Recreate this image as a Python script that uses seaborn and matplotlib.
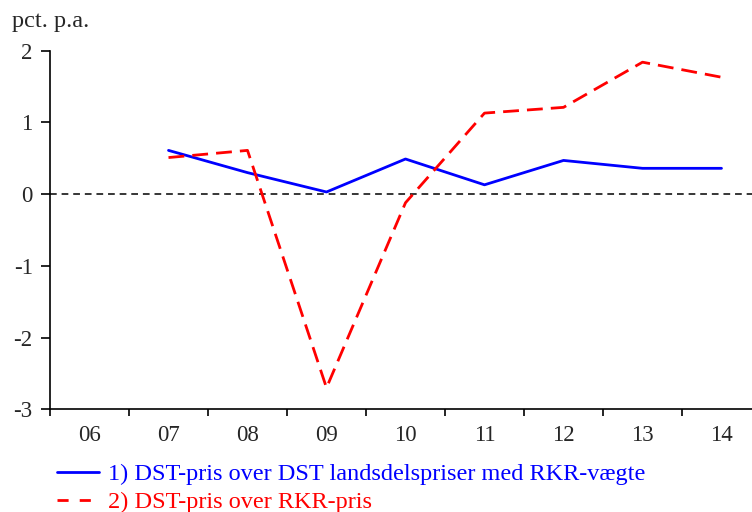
import numpy as np
import pandas as pd
import matplotlib
matplotlib.use("Agg")
import matplotlib.pyplot as plt
import seaborn as sns
from matplotlib.lines import Line2D

years = ["06", "07", "08", "09", "10", "11", "12", "13", "14"]
series1_name = "1) DST-pris over DST landsdelspriser med RKR-vægte"
series2_name = "2) DST-pris over RKR-pris"
series1 = [np.nan, 0.61, 0.30, 0.03, 0.49, 0.13, 0.47, 0.36, 0.36]
series2 = [np.nan, 0.51, 0.61, -2.70, -0.12, 1.13, 1.21, 1.84, 1.63]
y_ticks = [-3, -2, -1, 0, 1, 2]
y_label = "pct. p.a."

sns.set_theme(style="white")
plt.rcParams["font.family"] = ["Liberation Serif", "DejaVu Serif"]

df = pd.DataFrame({
    "x": list(range(len(years))) * 2,
    "value": series1 + series2,
    "series": [series1_name] * len(years) + [series2_name] * len(years),
})

W, H = 752, 512
fig = plt.figure(figsize=(W / 100, H / 100), dpi=100)
left = 50 / W
bottom = (H - 409.3) / H
top = (H - 50.7) / H
ax = fig.add_axes([left, bottom, 1 - left, top - bottom])

blue = "#0000FF"
red = "#FF0000"
lw = 2.0

sns.lineplot(data=df[df.series == series1_name], x="x", y="value", color=blue,
             linewidth=lw, ax=ax, legend=False)
sns.lineplot(data=df[df.series == series2_name], x="x", y="value", color=red,
             linewidth=lw, ax=ax, legend=False, dashes=False)
ax.lines[-1].set_dashes([5.7, 2.9])

ax.axhline(0, color="black", linewidth=1.1, dashes=(4.4, 3.2), zorder=0)

unit_px = 79.0
ax.set_xlim(-0.5, -0.5 + (W - 50) / unit_px)
ax.set_ylim(-3, 2)

ax.set_xticks([i - 0.5 for i in range(len(years))])
ax.set_xticklabels([])
ax.set_xticks(range(len(years)), minor=True)
ax.set_xticklabels(years, minor=True)
ax.tick_params(axis="x", which="major", direction="out", length=5, width=1.2,
               color="black", bottom=True)
ax.tick_params(axis="x", which="minor", length=0, pad=11, labelsize=16.5)
ax.set_yticks(y_ticks)
ax.set_yticklabels([str(t) for t in y_ticks])
ax.tick_params(axis="y", direction="out", length=6.5, width=1.2, color="black",
               left=True, pad=6, labelsize=16.5)

for s in ["top", "right"]:
    ax.spines[s].set_visible(False)
for s in ["left", "bottom"]:
    ax.spines[s].set_color("black")
    ax.spines[s].set_linewidth(1.2)
ax.set_xlabel("")
ax.set_ylabel("")
ax.grid(False)

fig.text(12 / W, 1 - 22 / H, y_label, fontsize=17.5, ha="left", va="center")

handles = [
    Line2D([], [], color=blue, linewidth=lw),
    Line2D([], [], color=red, linewidth=lw, dashes=(4.0, 4.0)),
]
leg = fig.legend(handles, [series1_name, series2_name], loc="upper left",
                 bbox_to_anchor=(57 / W, 1 - 463 / H), frameon=False,
                 fontsize=17.5, handlelength=1.73, handletextpad=0.37,
                 labelspacing=0.25, borderaxespad=0, borderpad=0)
leg.get_texts()[0].set_color(blue)
leg.get_texts()[1].set_color(red)

fig.savefig("out.png", dpi=100)
